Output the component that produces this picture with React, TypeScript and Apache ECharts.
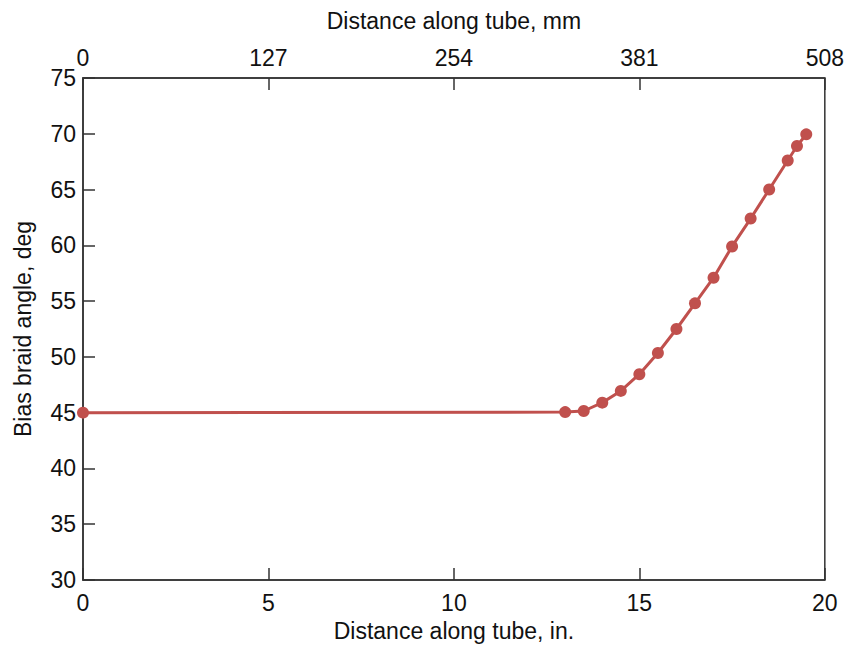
import React, { useEffect, useRef } from "react";
import * as echarts from "echarts";

const distanceIn = [0, 13, 13.5, 14, 14.5, 15, 15.5, 16, 16.5, 17, 17.5, 18, 18.5, 19, 19.25, 19.5];
const braidAngle = [45.0, 45.05, 45.15, 45.9, 46.95, 48.45, 50.35, 52.5, 54.8, 57.1, 59.9, 62.4, 65.0, 67.6, 68.9, 69.95];
const mmTicks = [0, 127, 254, 381, 508];

const FONT = "Liberation Sans, Arial, Helvetica, sans-serif";
const AXIS_COLOR = "#333333";

export default function App() {
  const ref = useRef<HTMLDivElement>(null);
  useEffect(() => {
    if (!ref.current) return;
    const chart = echarts.init(ref.current, undefined, { renderer: "svg" });
    const labelStyle = { color: "#111", fontSize: 23, fontFamily: FONT };
    const nameStyle = { color: "#111", fontSize: 23, fontFamily: FONT };
    chart.setOption({
      animation: false,
      backgroundColor: "#ffffff",
      grid: {
        left: 83,
        right: 22,
        top: 78,
        bottom: 69,
        show: true,
        borderColor: AXIS_COLOR,
        borderWidth: 1.5,
        backgroundColor: "transparent",
      },
      xAxis: [
        {
          type: "value",
          position: "bottom",
          min: 0,
          max: 20,
          interval: 5,
          name: "Distance along tube, in.",
          nameLocation: "middle",
          nameGap: 39,
          nameTextStyle: nameStyle,
          axisLine: { show: true, lineStyle: { color: AXIS_COLOR, width: 1.5 } },
          axisTick: { show: true, inside: true, length: 12, lineStyle: { color: AXIS_COLOR, width: 1.5 } },
          axisLabel: { ...labelStyle, margin: 11 },
          splitLine: { show: false },
        },
        {
          type: "value",
          position: "top",
          min: mmTicks[0],
          max: mmTicks[mmTicks.length - 1],
          interval: mmTicks[1] - mmTicks[0],
          name: "Distance along tube, mm",
          nameLocation: "middle",
          nameGap: 46,
          nameTextStyle: nameStyle,
          axisLine: { show: true, lineStyle: { color: AXIS_COLOR, width: 1.5 } },
          axisTick: { show: true, inside: true, length: 12, lineStyle: { color: AXIS_COLOR, width: 1.5 } },
          axisLabel: { ...labelStyle, margin: 9 },
          splitLine: { show: false },
        },
      ],
      yAxis: {
        type: "value",
        min: 30,
        max: 75,
        interval: 5,
        name: "Bias braid angle, deg",
        nameLocation: "middle",
        nameGap: 49,
        nameRotate: 90,
        nameTextStyle: nameStyle,
        axisLine: { show: true, lineStyle: { color: AXIS_COLOR, width: 1.5 } },
        axisTick: { show: true, inside: true, length: 12, lineStyle: { color: AXIS_COLOR, width: 1.5 } },
        axisLabel: { ...labelStyle, margin: 7 },
        splitLine: { show: false },
      },
      series: [
        {
          type: "line",
          xAxisIndex: 0,
          yAxisIndex: 0,
          data: distanceIn.map((x, i) => [x, braidAngle[i]]),
          symbol: "circle",
          symbolSize: 12,
          itemStyle: { color: "#C0504D" },
          lineStyle: { color: "#C0504D", width: 3 },
          clip: false,
        },
      ],
    });
    return () => chart.dispose();
  }, []);
  return <div ref={ref} style={{ width: 847, height: 649, position: "absolute", left: 0, top: 0 }} />;
}
